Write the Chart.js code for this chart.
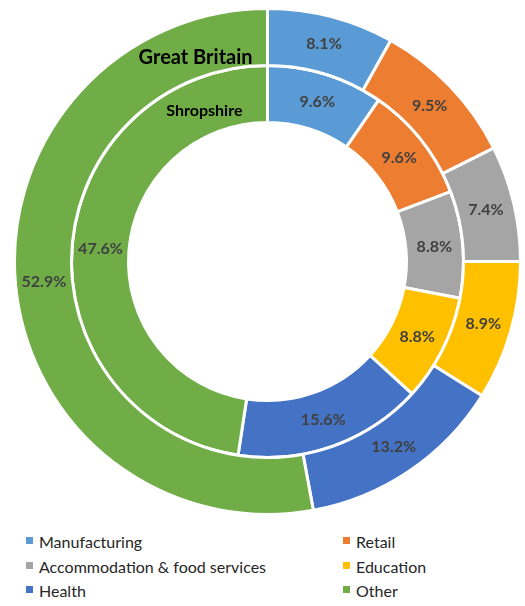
<!DOCTYPE html>
<html>
<head>
<meta charset="utf-8">
<script src="https://cdn.jsdelivr.net/npm/chart.js@4"></script>
<style>
  body { margin: 0; background: #fff; font-family: Lato, "Open Sans", sans-serif; }
  #wrap { position: relative; width: 525px; height: 520px; }
  #legend { position: relative; width: 525px; height: 86px; }
  .item { position: absolute; font-size: 16px; color: #262626; white-space: nowrap; line-height: 18px; }
  .box { display: inline-block; width: 7px; height: 7px; margin-right: 6px; vertical-align: 4px; }
</style>
</head>
<body>
<div id="wrap"><canvas id="ringChart"></canvas></div>
<div id="legend"></div>
<script>
const sectors = ['Manufacturing', 'Retail', 'Accommodation & food services', 'Education', 'Health', 'Other'];
const sectorColours = ['#5B9BD5', '#ED7D31', '#A5A5A5', '#FFC000', '#4472C4', '#70AD47'];
const greatBritain = [8.1, 9.5, 7.4, 8.9, 13.2, 52.9];
const shropshire = [9.6, 9.6, 8.8, 8.8, 15.6, 47.6];
const ringNames = ['Great Britain', 'Shropshire'];

// percentage labels + ring names
const ringLabels = {
    id: 'ringLabels',
    afterDatasetsDraw(chart) {
        const ctx = chart.ctx;
        ctx.save();
        ctx.textAlign = 'center';
        ctx.textBaseline = 'middle';
        chart.data.datasets.forEach((ds, i) => {
            const meta = chart.getDatasetMeta(i);
            meta.data.forEach((arc, j) => {
                const pos = arc.tooltipPosition();
                ctx.fillStyle = '#404040';
                ctx.font = 'bold 16px Lato';
                ctx.fillText(ds.data[j].toFixed(1) + '%', pos.x, pos.y);
            });
            // name in the big green slice, near the top
            const arc = meta.data[0];
            const r = (arc.innerRadius + arc.outerRadius) / 2 - (i === 0 ? 8 : 4);
            const a = i === 0 ? -19.4 : -22.7;
            const rad = a * Math.PI / 180;
            ctx.fillStyle = '#000';
            ctx.font = i === 0 ? 'bold 20px Lato' : 'bold 16px Lato';
            ctx.fillText(ringNames[i], arc.x + r * Math.sin(rad), arc.y - r * Math.cos(rad));
        });
        ctx.restore();
    }
};

const canvas = document.getElementById('ringChart');
new Chart(canvas, {
    type: 'doughnut',
    data: {
        labels: sectors,
        datasets: [
            { label: ringNames[0], data: greatBritain, backgroundColor: sectorColours, borderColor: '#fff', borderWidth: 3 },
            { label: ringNames[1], data: shropshire, backgroundColor: sectorColours, borderColor: '#fff', borderWidth: 3 }
        ]
    },
    options: {
        responsive: true,
        maintainAspectRatio: false,
        animation: false,
        cutout: 139,
        layout: { padding: { top: 7, left: 13, right: 3, bottom: 4 } },
        plugins: {
            legend: { display: false },
            tooltip: { enabled: false }
        }
    },
    plugins: [ringLabels]
});

// two column legend
const legend = document.getElementById('legend');
sectors.forEach((name, i) => {
    const el = document.createElement('div');
    el.className = 'item';
    el.style.left = (i % 2 === 0 ? 26 : 343) + 'px';
    el.style.top = (13 + Math.floor(i / 2) * 24.5) + 'px';
    el.innerHTML = '<span class="box" style="background:' + sectorColours[i] + '"></span>' + name.replace('&', '&amp;');
    legend.appendChild(el);
});
</script>
</body>
</html>
